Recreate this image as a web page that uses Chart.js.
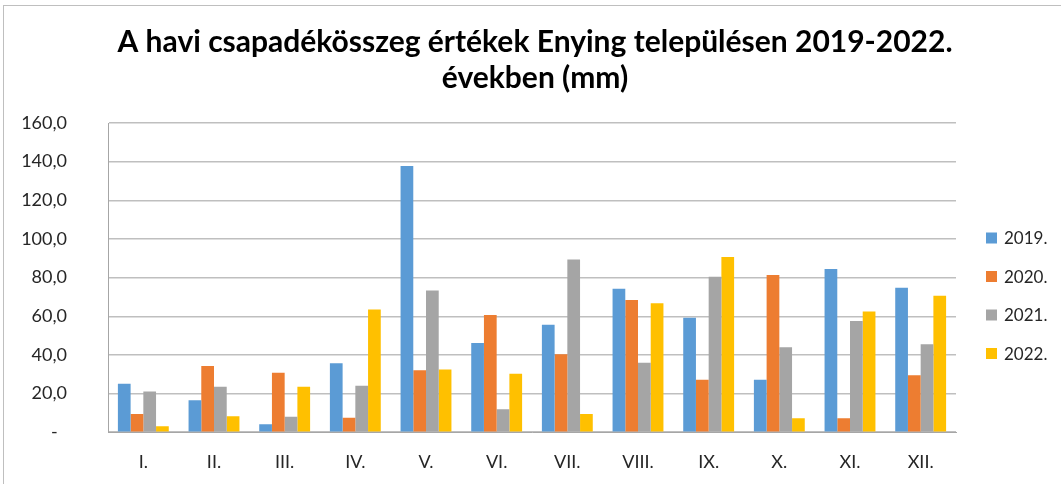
<!DOCTYPE html>
<html>
<head>
<meta charset="utf-8">
<script src="https://cdn.jsdelivr.net/npm/chart.js@4.4.1/dist/chart.umd.min.js"></script>
<style>
  html, body { margin: 0; padding: 0; background: #fff; }
  #wrap { width: 1061px; height: 484px; position: relative; }
</style>
</head>
<body>
<div id="wrap"><canvas id="chart"></canvas></div>
<script>
// havi csapadék adatok (mm)
const months = ['I.', 'II.', 'III.', 'IV.', 'V.', 'VI.', 'VII.', 'VIII.', 'IX.', 'X.', 'XI.', 'XII.'];
const years = ['2019.', '2020.', '2021.', '2022.'];
const rain2019 = [25.1, 16.5, 4.1, 35.7, 137.7, 46.2, 55.6, 74.2, 59.2, 27.1, 84.4, 74.7];
const rain2020 = [9.4, 34.3, 30.7, 7.5, 32.1, 60.7, 40.4, 68.4, 27.1, 81.4, 7.2, 29.5];
const rain2021 = [21.0, 23.5, 8.0, 24.1, 73.3, 11.9, 89.4, 36.0, 80.5, 44.0, 57.5, 45.5];
const rain2022 = [3.1, 8.3, 23.5, 63.5, 32.4, 30.2, 9.4, 66.7, 90.7, 7.2, 62.4, 70.6];
const colors = ['#5B9BD5', '#ED7D31', '#A5A5A5', '#FFC000'];
const titleLines = ['A havi csapadékösszeg értékek Enying településen 2019-2022.', 'években (mm)'];

const FONT = 'Lato, "Liberation Sans", sans-serif';

// cím, keret és jelmagyarázat rajzolása
const decorPlugin = {
  id: 'decor',
  beforeDraw(chart) {
    const ctx = chart.ctx;
    ctx.save();
    ctx.strokeStyle = '#BFBFBF';
    ctx.lineWidth = 1;
    ctx.strokeRect(3.5, 5.5, 1100, 600);
    ctx.restore();
  },
  afterDraw(chart) {
    const ctx = chart.ctx;
    ctx.save();
    ctx.fillStyle = '#000';
    ctx.textAlign = 'center';
    ctx.textBaseline = 'middle';
    ctx.font = 'bold 30px ' + FONT;
    ctx.fillText(titleLines[0], 535, 42);
    ctx.fillText(titleLines[1], 535, 78);

    ctx.textAlign = 'left';
    ctx.font = '17px ' + FONT;
    chart.data.datasets.forEach((ds, i) => {
      const y = 238 + i * 38.5;
      ctx.fillStyle = ds.backgroundColor;
      ctx.fillRect(986, y - 5.5, 11, 11);
      ctx.fillStyle = '#262626';
      ctx.fillText(ds.label, 1004, y + 1);
    });
    ctx.restore();
  }
};

const series = [rain2019, rain2020, rain2021, rain2022];

new Chart(document.getElementById('chart'), {
  type: 'bar',
  data: {
    labels: months,
    datasets: series.map((data, i) => ({
      label: years[i],
      data: data,
      backgroundColor: colors[i],
      borderWidth: 0,
      categoryPercentage: 0.72,
      barPercentage: 1.0
    }))
  },
  options: {
    responsive: true,
    maintainAspectRatio: false,
    animation: false,
    layout: { padding: { left: 3, top: 123, right: 105, bottom: 0 } },
    plugins: {
      legend: { display: false },
      title: { display: false },
      tooltip: { enabled: false }
    },
    scales: {
      x: {
        grid: { display: false, drawTicks: false },
        border: { display: true, color: '#A6A6A6', width: 1 },
        ticks: { color: '#262626', font: { family: FONT, size: 18 }, padding: 19, maxRotation: 0 },
        afterFit(scale) { scale.height = 49; }
      },
      y: {
        min: 0,
        max: 160,
        ticks: {
          stepSize: 20,
          color: '#262626',
          font: { family: FONT, size: 18 },
          padding: 41,
          callback: (v) => v === 0 ? '-  ' : v.toFixed(1).replace('.', ',')
        },
        grid: { color: '#BFBFBF', lineWidth: 1.5, drawTicks: false },
        border: { display: true, color: '#A6A6A6', width: 1 },
        afterFit(scale) { scale.width = 105; }
      }
    }
  },
  plugins: [decorPlugin]
});
</script>
</body>
</html>
